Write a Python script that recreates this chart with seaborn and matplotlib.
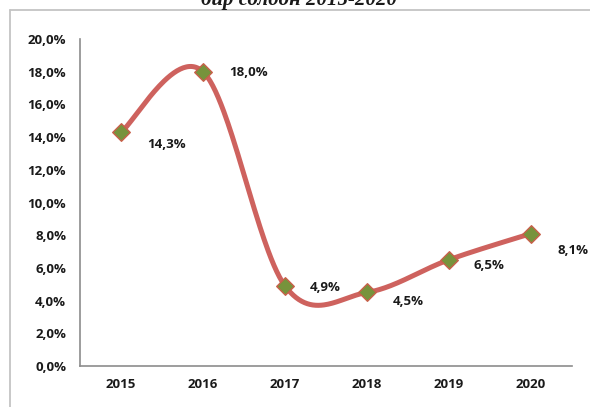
import numpy as np
import pandas as pd
import matplotlib
matplotlib.use("Agg")
import matplotlib.pyplot as plt
from matplotlib.lines import Line2D
import seaborn as sns

# ---- data ----
years = ["2015", "2016", "2017", "2018", "2019", "2020"]
values = [14.3, 18.0, 4.9, 4.5, 6.5, 8.1]
value_labels = ["14,3%", "18,0%", "4,9%", "4,5%", "6,5%", "8,1%"]
y_ticks = [0, 2, 4, 6, 8, 10, 12, 14, 16, 18, 20]
y_tick_labels = ["0,0%", "2,0%", "4,0%", "6,0%", "8,0%", "10,0%",
                 "12,0%", "14,0%", "16,0%", "18,0%", "20,0%"]
title_text = "бир солдон 2015-2020"

# label offsets in pixels (style only)
label_offsets = [(26, -12), (26, -1), (25, -2), (26, -9), (24, -6), (26, -17)]

sns.set_theme(style="white")
plt.rcParams["font.family"] = ["Open Sans", "DejaVu Sans"]

fig = plt.figure(figsize=(5.90, 4.07), dpi=100)
ax = fig.add_axes([80 / 590, 1 - 366 / 407, (572 - 80) / 590, (366 - 39) / 407])

# Excel-like smoothed line (Catmull-Rom Bezier through the data points)
x = np.arange(len(values), dtype=float)
y = np.array(values, dtype=float)
px = np.concatenate([[x[0]], x, [x[-1]]])
py = np.concatenate([[y[0]], y, [y[-1]]])
t = np.linspace(0, 1, 60)
sx, sy = [], []
for i in range(1, len(px) - 2):
    p0 = np.array([px[i], py[i]])
    p3 = np.array([px[i + 1], py[i + 1]])
    c1 = p0 + (np.array([px[i + 1], py[i + 1]]) - np.array([px[i - 1], py[i - 1]])) / 6
    c2 = p3 - (np.array([px[i + 2], py[i + 2]]) - np.array([px[i], py[i]])) / 6
    b = ((1 - t) ** 3)[:, None] * p0 + (3 * (1 - t) ** 2 * t)[:, None] * c1 \
        + (3 * (1 - t) * t ** 2)[:, None] * c2 + (t ** 3)[:, None] * p3
    sx.extend(b[:, 0]); sy.extend(b[:, 1])
curve = pd.DataFrame({"x": sx, "y": sy})
sns.lineplot(data=curve, x="x", y="y", sort=False, ax=ax, color="#CE625E",
             linewidth=3.6, solid_capstyle="round", zorder=2)

pts = pd.DataFrame({"x": x, "y": y})
sns.scatterplot(data=pts, x="x", y="y", ax=ax, marker="D", s=80,
                color="#77933C", edgecolor="#C8604A", linewidth=1.0, zorder=3)

for xi, yi, lab, (dx, dy) in zip(x, y, value_labels, label_offsets):
    ax.annotate(lab, (xi, yi), xytext=(dx * 0.72, dy * 0.72), textcoords="offset points",
                ha="left", va="center", fontsize=9.5, fontweight="bold", color="#1a1a1a")

ax.set_xlim(-0.5, 5.5)
ax.set_ylim(0, 20)
ax.set_xticks(x)
ax.set_xticklabels(years)
ax.set_yticks(y_ticks)
ax.set_yticklabels(y_tick_labels)
ax.set_xlabel("")
ax.set_ylabel("")
for lab in ax.get_xticklabels() + ax.get_yticklabels():
    lab.set_fontweight("bold")
    lab.set_fontsize(9.5)
    lab.set_color("#1a1a1a")
ax.tick_params(axis="both", length=0)
ax.tick_params(axis="y", pad=10)
ax.tick_params(axis="x", pad=9)
for s in ["top", "right"]:
    ax.spines[s].set_visible(False)
for s in ["left", "bottom"]:
    ax.spines[s].set_visible(True)
    ax.spines[s].set_color("#8c8c8c")
    ax.spines[s].set_linewidth(1.2)
ax.grid(False)

# outer chart-area frame lines (partial, as in the cropped reference)
fig.add_artist(Line2D([10 / 590, 1.0], [1 - 10 / 407, 1 - 10 / 407],
                      transform=fig.transFigure, color="#c4c4c4", linewidth=1.3))
fig.add_artist(Line2D([10 / 590, 10 / 590], [0, 1 - 10 / 407],
                      transform=fig.transFigure, color="#c4c4c4", linewidth=1.3))

# cropped title (only its lower part is visible in the reference)
fig.text(299 / 590, 1 - 5 / 407, title_text, ha="center", va="baseline",
         fontsize=15, fontstyle="italic", fontweight="bold",
         family=["Liberation Serif", "DejaVu Serif"], color="#1a1a1a")

fig.savefig("out.png", dpi=100)
